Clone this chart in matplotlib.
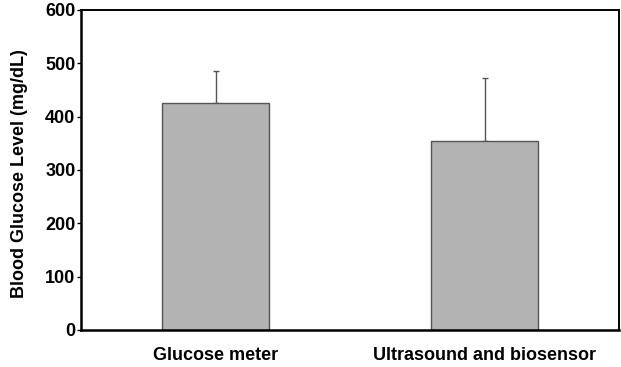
import matplotlib.pyplot as plt

plt.rcParams["font.family"] = ["Liberation Sans", "DejaVu Sans"]
plt.rcParams["font.weight"] = "bold"

# data
methods = ["Glucose meter", "Ultrasound and biosensor"]
glucose_mean = [425, 355]
glucose_err = [60, 118]
y_ticks = [0, 100, 200, 300, 400, 500, 600]

fig = plt.figure(figsize=(6.21, 3.67), dpi=100)
ax = fig.add_axes([81 / 621, 1 - 330 / 367, 538 / 621, 320 / 367])

x = range(len(methods))
ax.bar(
    x,
    glucose_mean,
    width=0.4,
    color="#b3b3b3",
    edgecolor="#555555",
    linewidth=1,
    zorder=2,
)
ax.errorbar(
    x,
    glucose_mean,
    yerr=[[0] * len(glucose_err), glucose_err],
    fmt="none",
    ecolor="#555555",
    elinewidth=1,
    capsize=2,
    capthick=1,
    zorder=1,
)

ax.set_xlim(-0.5, 1.5)
ax.set_ylim(0, 600)
ax.set_yticks(y_ticks)
ax.set_xticks(list(x))
ax.set_xticklabels(methods, fontsize=13, fontweight="bold")
ax.tick_params(axis="x", length=0, pad=12)
ax.tick_params(axis="y", length=3, width=1, labelsize=13, pad=1)
for t in ax.get_yticklabels():
    t.set_fontweight("bold")

for side in ["left", "bottom"]:
    ax.spines[side].set_linewidth(1.8)
for side in ["top", "right"]:
    ax.spines[side].set_linewidth(1.4)

ax.set_ylabel("Blood Glucose Level (mg/dL)", fontsize=13, fontweight="bold")
ax.yaxis.set_label_coords(-0.098, 0.49)

fig.savefig("out.png", dpi=100)
